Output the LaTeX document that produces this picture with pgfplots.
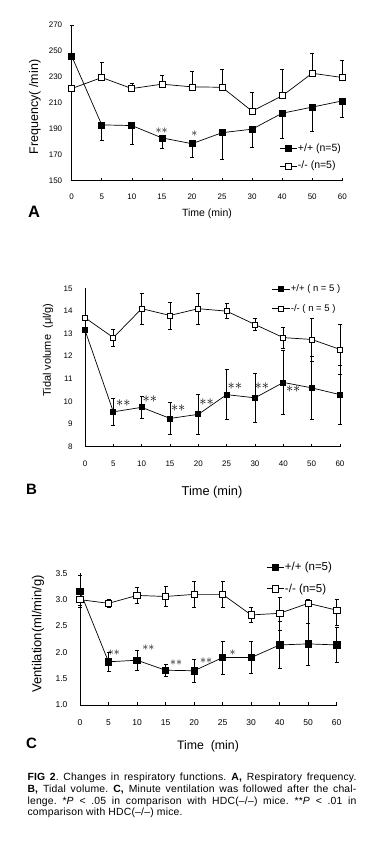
\documentclass[border=0pt]{standalone}
\usepackage{fontspec}
\setmainfont{Liberation Sans}
\newfontfamily\capfont[LetterSpace=2]{Liberation Sans}
\usepackage{pgfplots}
\pgfplotsset{compat=1.18}
\pgfplotsset{
  panel/.style={
    scale only axis, anchor=south west, clip=false,
    axis x line*=bottom, axis y line*=left,
    axis line style={-, line width=0.7pt, black},
    xmin=0, xmax=9, xtick={0,...,9},
    xticklabels={0,5,10,15,20,25,30,40,50,60},
    tick align=inside, major tick length=3pt,
    tick style={line width=0.6pt, black},
    ytick style={draw=none},
    /pgf/number format/assume math mode=true,
    legend cell align=left,
    legend style={draw=none, fill=none, inner sep=0pt, anchor=north west,
      nodes={inner sep=1pt}},
  },
  filled/.style={black, line width=0.7pt, mark=square*,
    mark options={fill=black, solid},
    error bars/y dir=both, error bars/y explicit,
    error bars/error bar style={line width=0.6pt},
    error bars/error mark options={rotate=90, mark size=2pt, line width=0.6pt}},
  open/.style={black, line width=0.7pt, mark=square*,
    mark options={fill=white, solid},
    error bars/y dir=both, error bars/y explicit,
    error bars/error bar style={line width=0.6pt},
    error bars/error mark options={rotate=90, mark size=2pt, line width=0.6pt}},
}
\begin{document}
\begin{tikzpicture}
\useasboundingbox (0,0) rectangle (384pt,845pt);
% ---------------- Panel A ----------------
\begin{axis}[panel, at={(71.7pt,664.3pt)}, width=270.6pt, height=155.7pt,
  ymin=150, ymax=270, ytick={150,170,...,270},
  ticklabel style={font=\fontsize{8}{8}\selectfont},
  xticklabel style={yshift=-9.7pt},
  yticklabel style={xshift=-6pt},
  mark size=3pt,
  legend style={at={(0.766,0.242)}, font=\fontsize{10.5}{10.5}\selectfont, row sep=6pt}]
\addplot[filled] coordinates {
 (0,246) += (0,24) -= (0,0)
 (1,193) += (0,0) -= (0,11.5)
 (2,192.5) += (0,0) -= (0,14.5)
 (3,183) += (0,0) -= (0,8)
 (4,178.5) += (0,0) -= (0,10.5)
 (5,187) += (0,0) -= (0,20.3)
 (6,189.7) += (0,0) -= (0,14.3)
 (7,202) += (0,0) -= (0,19.4)
 (8,206.7) += (0,0) -= (0,19)
 (9,211.5) += (0,0) -= (0,13)
};
\addlegendentry{+/+ (n=5)}
\addplot[open] coordinates {
 (0,221) += (0,0) -= (0,0)
 (1,229.5) += (0,11.8) -= (0,0)
 (2,221) += (0,4.4) -= (0,0)
 (3,224.4) += (0,6.9) -= (0,0)
 (4,222.3) += (0,12.1) -= (0,0)
 (5,222) += (0,13.6) -= (0,0)
 (6,203.6) += (0,14.9) -= (0,0)
 (7,215.4) += (0,20.6) -= (0,0)
 (8,232.8) += (0,15.2) -= (0,0)
 (9,229.5) += (0,13.1) -= (0,0)
};
\addlegendentry{-/- (n=5)}
\node[font=\fontsize{13}{13}\selectfont] at (axis cs:2.99,188.2) {$\ast\ast$};
\node[font=\fontsize{13}{13}\selectfont] at (axis cs:4.08,185.9) {$\ast$};
\end{axis}
% ---------------- Panel B ----------------
\begin{axis}[panel, at={(85pt,398.3pt)}, width=255pt, height=158.4pt,
  ymin=8, ymax=15, ytick={8,...,15},
  ticklabel style={font=\fontsize{8}{8}\selectfont},
  xticklabel style={yshift=-10.4pt},
  yticklabel style={xshift=-9pt},
  mark size=2.5pt,
  legend style={at={(0.733,1.028)}, font=\fontsize{9.5}{9.5}\selectfont, row sep=9.1pt}]
\addplot[filled] coordinates {
 (0,13.15) +- (0,0)
 (1,9.54) +- (0,0.6)
 (2,9.74) +- (0,0.5)
 (3,9.25) +- (0,0.7)
 (4,9.43) +- (0,0.9)
 (5,10.3) +- (0,1.1)
 (6,10.16) +- (0,1.1)
 (7,10.84) +- (0,1.4)
 (8,10.6) +- (0,1.4)
 (9,10.3) +- (0,1.3)
};
\addlegendentry{+/+ ( n = 5 )}
\addplot[open] coordinates {
 (0,13.7) +- (0,0)
 (1,12.82) +- (0,0.37)
 (2,14.1) +- (0,0.7)
 (3,13.8) +- (0,0.6)
 (4,14.1) +- (0,0.7)
 (5,13.99) +- (0,0.33)
 (6,13.4) +- (0,0.27)
 (7,12.82) +- (0,0.45)
 (8,12.74) +- (0,0.95)
 (9,12.3) +- (0,1.1)
};
\addlegendentry{-/- ( n = 5 )}
\foreach \sx/\sy in {1.35/9.94, 2.29/10.09, 3.29/9.69, 4.29/9.99, 5.29/10.68, 6.24/10.68, 7.35/10.53}{
  \edef\tmp{\noexpand\node[font=\noexpand\fontsize{15}{15}\noexpand\selectfont] at (axis cs:\sx,\sy) {$\noexpand\ast\noexpand\ast$};}\tmp
}
\end{axis}
% ---------------- Panel C ----------------
\begin{axis}[panel, at={(80pt,140pt)}, width=256.7pt, height=131.7pt,
  ymin=1, ymax=3.5, ytick={1,1.5,...,3.5},
  yticklabel={\pgfmathprintnumber[fixed,fixed zerofill,precision=1]{\tick}},
  ticklabel style={font=\fontsize{8.5}{8.5}\selectfont},
  xticklabel style={yshift=-11pt},
  yticklabel style={xshift=-9pt},
  mark size=3.2pt,
  legend style={at={(0.7246,1.091)}, font=\fontsize{11.5}{11.5}\selectfont, row sep=9.5pt}]
\addplot[filled] coordinates {
 (0,3.16) +- (0,0.3)
 (1,1.82) +- (0,0.18)
 (2,1.85) +- (0,0.19)
 (3,1.66) +- (0,0.12)
 (4,1.65) +- (0,0.21)
 (5,1.9) +- (0,0.31)
 (6,1.9) +- (0,0.3)
 (7,2.14) +- (0,0.44)
 (8,2.16) +- (0,0.4)
 (9,2.14) +- (0,0.33)
};
\addlegendentry{+/+ (n=5)}
\addplot[open] coordinates {
 (0,3.0) += (0,0.1) -= (0,0.1)
 (1,2.93) += (0,0.07) -= (0,0.07)
 (2,3.08) += (0,0.15) -= (0,0.15)
 (3,3.06) += (0,0.19) -= (0,0.19)
 (4,3.1) += (0,0.24) -= (0,0.24)
 (5,3.1) += (0,0.24) -= (0,0.24)
 (6,2.71) += (0,0.14) -= (0,0.14)
 (7,2.74) += (0,0.3) -= (0,0.32)
 (8,2.93) += (0,0.08) -= (0,0.38)
 (9,2.8) += (0,0.2) -= (0,0.28)
};
\addlegendentry{-/- (n=5)}
\node[font=\fontsize{13}{13}\selectfont] at (axis cs:1.19,2.0) {$\ast\ast$};
\node[font=\fontsize{13}{13}\selectfont] at (axis cs:2.40,2.08) {$\ast\ast$};
\node[font=\fontsize{13}{13}\selectfont] at (axis cs:3.37,1.81) {$\ast\ast$};
\node[font=\fontsize{13}{13}\selectfont] at (axis cs:4.42,1.85) {$\ast\ast$};
\node[font=\fontsize{13}{13}\selectfont] at (axis cs:5.35,2.0) {$\ast$};
\end{axis}
% ---------------- Labels ----------------
\node[rotate=90, font=\fontsize{12.5}{12.5}\selectfont] at (35pt,738pt) {Frequency( /min)};
\node[font=\fontsize{10.5}{10.5}\selectfont] at (207pt,631pt) {Time (min)};
\node[font=\fontsize{16.5}{16.5}\selectfont\bfseries] at (34pt,633pt) {A};
\node[rotate=90, font=\fontsize{11}{11}\selectfont] at (48pt,495pt) {Tidal volume\ \ (μl/g)};
\node[font=\fontsize{12.8}{12.8}\selectfont] at (212pt,353pt) {Time (min)};
\node[font=\fontsize{15}{15}\selectfont\bfseries] at (31.5pt,356pt) {B};
\node[rotate=90, font=\fontsize{13}{13}\selectfont] at (38pt,211pt) {Ventilation(ml/min/g)};
\node[font=\fontsize{12.3}{12.3}\selectfont] at (208pt,99pt) {Time\ \ (min)};
\node[font=\fontsize{15}{15}\selectfont\bfseries] at (31.5pt,101.5pt) {C};
\node[anchor=north west, inner sep=0pt] at (27.3pt,72pt) {\parbox[t]{329pt}{\capfont\fontsize{10.4}{11.7}\selectfont\frenchspacing
\makebox[329pt][s]{\textbf{FIG 2}. Changes in respiratory functions. \textbf{A,} Respiratory frequency.}\\
\makebox[329pt][s]{\textbf{B,} Tidal volume. \textbf{C,} Minute ventilation was followed after the chal-}\\
\makebox[329pt][s]{lenge. *\textit{P} < .05 in comparison with HDC(–/–) mice. **\textit{P} < .01 in}\\
comparison with HDC(–/–) mice.}};
\end{tikzpicture}
\end{document}
